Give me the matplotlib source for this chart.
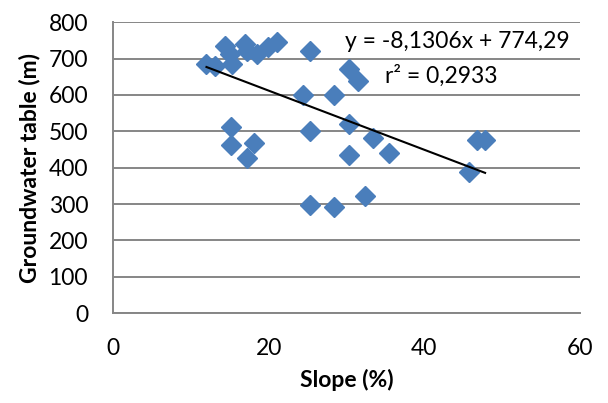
import numpy as np
import matplotlib
matplotlib.use("Agg")
import matplotlib.pyplot as plt

# data
slope = [12.0, 13.1, 14.4, 15.0, 15.3, 17.0, 17.2, 18.5, 19.9, 21.1,
         25.3, 24.4, 28.4, 30.3, 31.5, 15.2, 15.2, 18.1, 17.2, 25.3,
         30.3, 33.4, 35.4, 30.3, 25.3, 28.4, 32.4, 45.7, 46.8, 47.8]
groundwater = [684, 679, 734, 712, 684, 739, 720, 712, 731, 745,
               720, 601, 601, 670, 637, 513, 463, 469, 427, 500,
               521, 482, 441, 436, 298, 293, 323, 389, 477, 477]
trend_a = -8.1306
trend_b = 774.29
r2 = 0.2933

xticks = [0, 20, 40, 60]
yticks = [0, 100, 200, 300, 400, 500, 600, 700, 800]

plt.rcParams["font.family"] = ["Lato", "DejaVu Sans"]
GRAY = "#868686"
BLUE = "#4A7EBB"
FS = 16.5

fig = plt.figure(figsize=(6.08, 4.03), dpi=100)
ax = fig.add_axes([0.186, 0.223, 0.768, 0.722])

ax.plot(slope, groundwater, linestyle="none", marker="D", ms=10.5,
        color=BLUE, mec=BLUE, zorder=3)

xs = np.array([min(slope), max(slope)])
ax.plot(xs, trend_a * xs + trend_b, color="black", lw=1.5, zorder=4)

ax.set_xlim(0, 60)
ax.set_ylim(0, 800)
ax.set_xticks(xticks)
ax.set_yticks(yticks)
ax.tick_params(length=0, labelsize=FS, pad=18)
ax.tick_params(axis="y", pad=18)

ax.grid(axis="y", color=GRAY, lw=1.4)
ax.set_axisbelow(True)
for s in ["top", "right"]:
    ax.spines[s].set_visible(False)
for s in ["left", "bottom"]:
    ax.spines[s].set_color(GRAY)
    ax.spines[s].set_linewidth(1.4)

ax.set_xlabel("Slope (%)", fontsize=FS, fontweight="bold", labelpad=7)
ax.set_ylabel("Groundwater table (m)", fontsize=FS, fontweight="bold", labelpad=6)

eq = f"y = {trend_a:.4f}x + {trend_b:.2f}".replace(".", ",")
ax.text(0.497, 0.935, eq, transform=ax.transAxes, fontsize=FS,
        va="center", ha="left")
ax.text(0.583, 0.815, f"r² = {r2:.4f}".replace(".", ","), transform=ax.transAxes,
        fontsize=FS, va="center", ha="left")

fig.savefig("out.png", dpi=100)
